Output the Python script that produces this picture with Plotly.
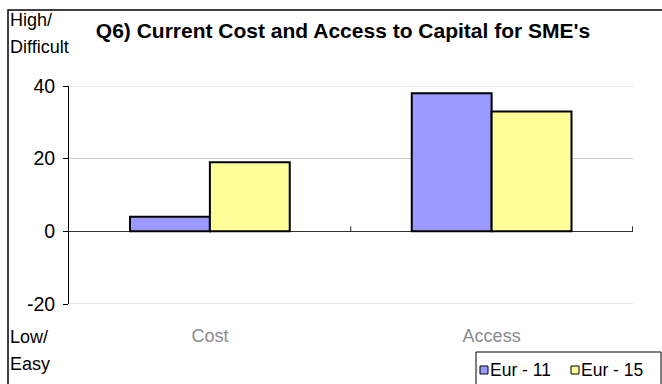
import plotly.graph_objects as go

# Survey data
categories = ["Cost", "Access"]
series_names = ["Eur - 11", "Eur - 15"]
eur11 = [4, 38]
eur15 = [19, 33]
y_ticks = [-20, 0, 20, 40]

colors = ["#9999FF", "#FFFF99"]
FONT = "Liberation Sans, Arial, sans-serif"

W, H = 662, 384
L, R, T, B = 69, 633, 86, 304  # plot area edges in pixels


def px(x):
    return (x - L) / (R - L)


def py(y):
    return 1 - (y - T) / (B - T)


fig = go.Figure()
for name, vals, col in zip(series_names, [eur11, eur15], colors):
    fig.add_trace(go.Bar(
        x=categories, y=vals, name=name,
        marker=dict(color=col, line=dict(color="black", width=2)),
        showlegend=False,
    ))

shapes = []
# gridlines at the range ends
for v in (min(y_ticks), max(y_ticks)):
    shapes.append(dict(type="line", xref="paper", yref="y", x0=0, x1=1, y0=v, y1=v,
                       layer="below", line=dict(color="#cccccc", width=1)))
# boundary ticks on the zero line
for i in range(len(categories)):
    shapes.append(dict(type="line", xref="x", yref="y",
                       x0=i + 0.5, x1=i + 0.5, y0=0, y1=1.4,
                       line=dict(color="#333333", width=1)))
# outer chart frame
shapes.append(dict(type="rect", xref="paper", yref="paper",
                   x0=px(8), x1=px(700), y0=py(420), y1=py(10),
                   line=dict(color="black", width=1.5)))
# legend box
shapes.append(dict(type="rect", xref="paper", yref="paper",
                   x0=px(476), x1=px(661), y0=py(400), y1=py(352),
                   line=dict(color="black", width=1), fillcolor="white"))

annotations = []
legend_x = [480, 571]
for name, col, lx in zip(series_names, colors, legend_x):
    shapes.append(dict(type="rect", xref="paper", yref="paper",
                       x0=px(lx), x1=px(lx + 8), y0=py(374), y1=py(366),
                       line=dict(color="black", width=1), fillcolor=col))
    annotations.append(dict(text=name, xref="paper", yref="paper",
                            x=px(lx + 8), y=py(370), xanchor="left", yanchor="middle",
                            showarrow=False, font=dict(family=FONT, size=17.5, color="black")))

for txt, yy in [("High/", 20), ("Difficult", 47), ("Low/", 337), ("Easy", 364)]:
    annotations.append(dict(text=txt, xref="paper", yref="paper",
                            x=px(8), y=py(yy), xanchor="left", yanchor="middle",
                            showarrow=False, font=dict(family=FONT, size=18, color="black")))

fig.update_layout(
    width=W, height=H,
    margin=dict(l=L, r=W - R, t=T, b=H - B, pad=0),
    paper_bgcolor="white", plot_bgcolor="white",
    barmode="group", bargap=0.433, bargroupgap=0,
    title=dict(text="<b>Q6) Current Cost and Access to Capital for SME's</b>",
               x=343 / W, y=1 - 31 / H, xref="container", yref="container",
               xanchor="center", yanchor="middle",
               font=dict(family=FONT, size=21, color="black")),
    xaxis=dict(showgrid=False, showline=False, ticks="", zeroline=False,
               tickfont=dict(family=FONT, size=18, color="#8a8a8a"),
               ticklabelstandoff=19),
    yaxis=dict(range=[-20, 40], tickvals=y_ticks, ticktext=[str(v) for v in y_ticks],
               showgrid=True, gridcolor="#cccccc", gridwidth=1,
               showline=True, linecolor="black", linewidth=1,
               ticks="outside", ticklen=5, tickcolor="black",
               zeroline=True, zerolinecolor="#333333", zerolinewidth=1,
               tickfont=dict(family=FONT, size=19.5, color="black"),
               ticklabelstandoff=4),
    shapes=shapes, annotations=annotations,
)

fig.write_html("out.html")
